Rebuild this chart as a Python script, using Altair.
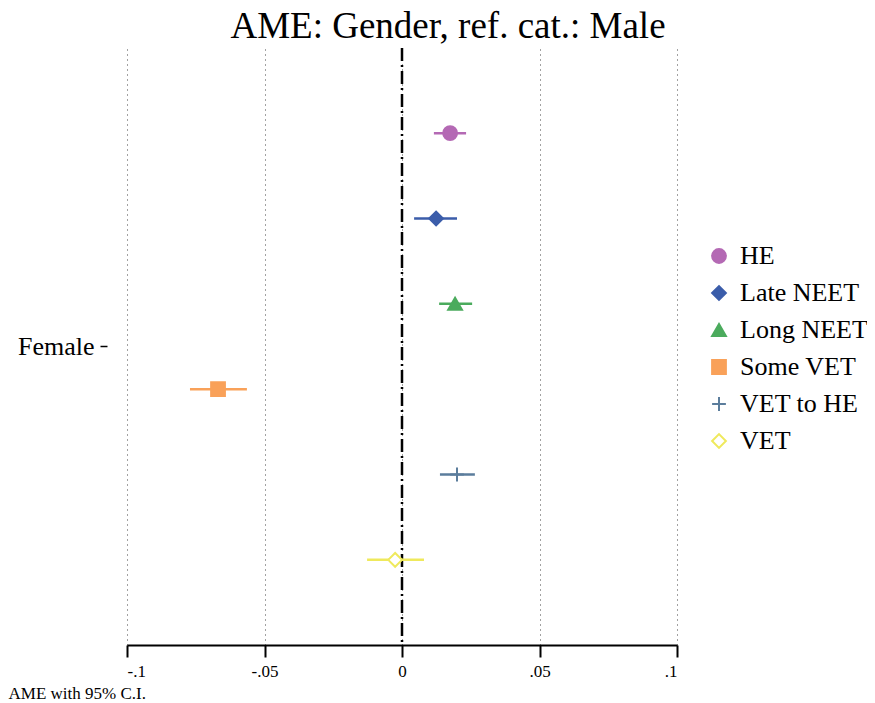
import altair as alt
import pandas as pd

series = ["HE", "Late NEET", "Long NEET", "Some VET", "VET to HE", "VET"]
ame = [0.0175, 0.0124, 0.0193, -0.0669, 0.0200, -0.0025]
ci_low = [0.0116, 0.0044, 0.0135, -0.0771, 0.0138, -0.0127]
ci_high = [0.0233, 0.0200, 0.0255, -0.0564, 0.0265, 0.0080]
group = ["Female"] * 6
colors = ["#b469b4", "#3b5daa", "#4bab5d", "#f9a159", "#5b7d9c", "#efe95c"]
fills = ["#b469b4", "#3b5daa", "#4bab5d", "#f9a159", "transparent", "#ffffff"]
shapes = ["circle", "diamond", "triangle-up", "square", "M-1,0H1M0,-1V1", "diamond"]
ticks = [-0.1, -0.05, 0, 0.05, 0.1]

df = pd.DataFrame({"series": series, "ame": ame, "lo": ci_low, "hi": ci_high, "group": group})

FONT = "Liberation Serif"
xscale = alt.Scale(domain=[-0.1, 0.1], nice=False, zero=False)
yenc = alt.Y("group:N", title=None,
             scale=alt.Scale(paddingInner=0, paddingOuter=0.083),
             axis=alt.Axis(domain=False, ticks=True, tickSize=7, tickColor="black", tickWidth=1.5,
                           offset=20, labelPadding=6, labelFont=FONT, labelFontSize=26,
                           labelColor="black", grid=False))
yoff = alt.YOffset("series:N", sort=series, scale=alt.Scale(paddingInner=0, paddingOuter=0))
color_enc = alt.Color("series:N", sort=series, scale=alt.Scale(domain=series, range=colors), title=None)
fill_enc = alt.Fill("series:N", sort=series, scale=alt.Scale(domain=series, range=fills), title=None)
shape_enc = alt.Shape("series:N", sort=series, scale=alt.Scale(domain=series, range=shapes), title=None)

base = alt.Chart(df)

xaxis = alt.Axis(values=ticks,
                 labelExpr="(datum.value < 0 ? '-' : '') + replace(toString(abs(datum.value)), '0.', '.')",
                 grid=True, gridDash=[1, 4], gridColor="#444444", gridWidth=1,
                 domainColor="black", domainWidth=2, tickColor="black", tickWidth=2, tickSize=12,
                 labelFont=FONT, labelFontSize=17, labelColor="black", labelPadding=6,
                 title="AME with 95% C.I.", titleFont=FONT, titleFontSize=17, titleFontWeight="normal",
                 titleColor="black", titleAlign="left", titleAnchor="start", titleX=-119, titleY=53,
                 titleBaseline="alphabetic")

grid_layer = base.mark_rule(opacity=0).encode(
    x=alt.X("ame:Q", scale=xscale, axis=xaxis), y=yenc)

zero = alt.Chart(pd.DataFrame({"z": [0]})).mark_rule(
    color="black", strokeWidth=2.5, strokeDash=[13, 4, 2, 4]).encode(x=alt.X("z:Q", scale=xscale))

bars = base.mark_rule(strokeWidth=2.5).encode(
    x=alt.X("lo:Q", scale=xscale), x2="hi:Q", y=yenc, yOffset=yoff, color=color_enc)

points = base.mark_point(size=190, strokeWidth=2, opacity=1).encode(
    x=alt.X("ame:Q", scale=xscale), y=yenc, yOffset=yoff,
    color=color_enc, fill=fill_enc, shape=shape_enc)

chart = alt.layer(grid_layer, zero, bars, points).properties(
    width=550, height=597,
    autosize=alt.AutoSizeParams(type="none"),
    padding={"left": 119, "top": 40, "right": 190, "bottom": 66},
    title=alt.TitleParams("AME: Gender, ref. cat.: Male", font=FONT, fontSize=37,
                          fontWeight="normal", color="black", anchor="middle", dx=46, dy=6, offset=7),
).configure_view(stroke=None).configure_legend(
    orient="none", legendX=579, legendY=195, labelFont=FONT, labelFontSize=26, labelColor="black",
    symbolSize=190, symbolStrokeWidth=2, rowPadding=11, labelOffset=8, padding=0
)

chart.save("out.html", embed_options={"renderer": "svg", "actions": False})
